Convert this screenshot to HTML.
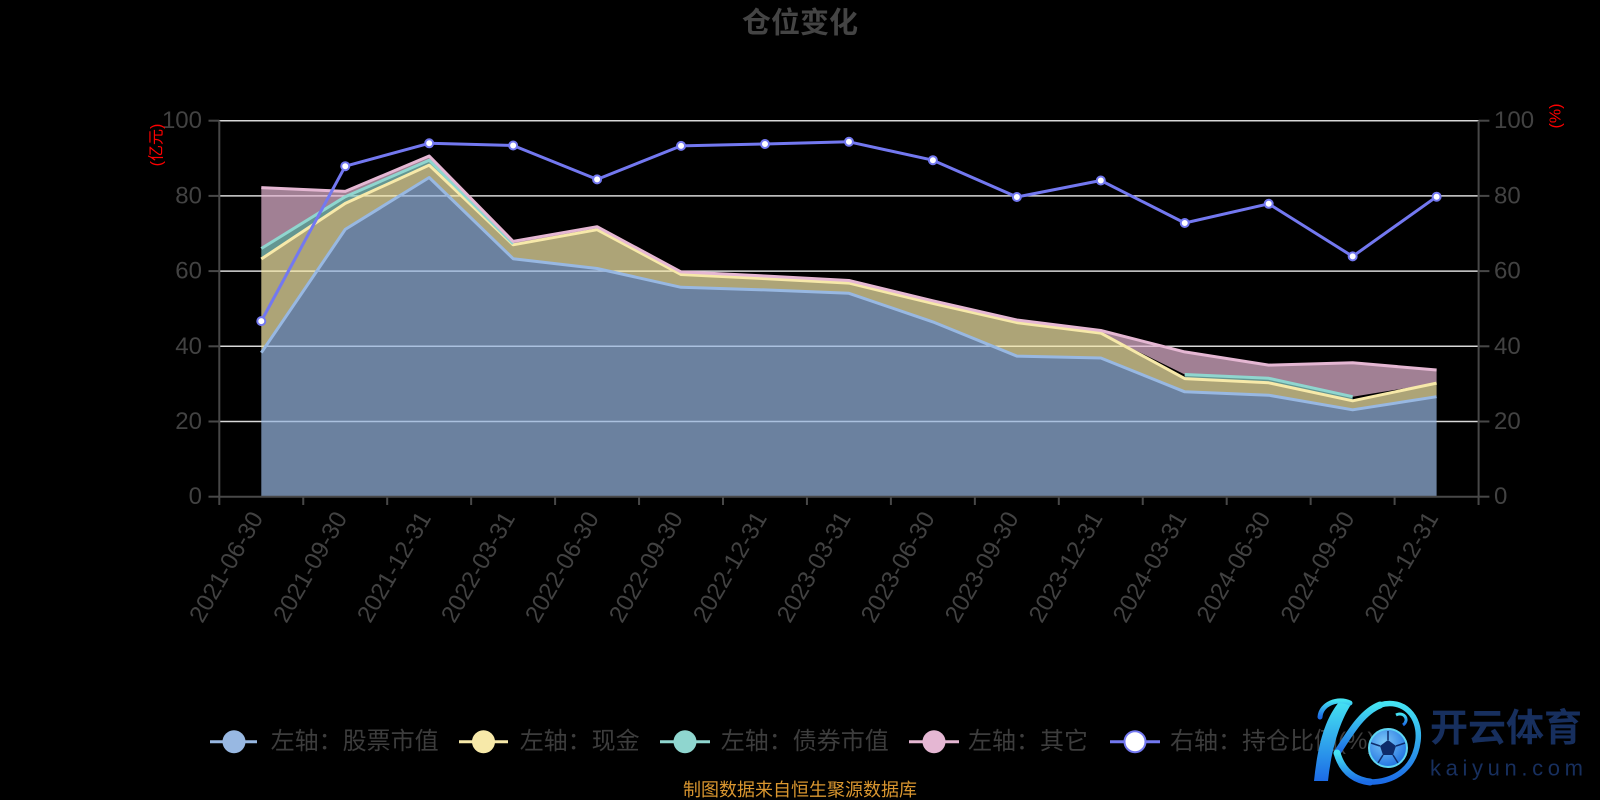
<!DOCTYPE html>
<html>
<head>
<meta charset="utf-8">
<style>
  html, body { margin:0; padding:0; background:#000; }
  svg { display:block; }
  text { font-family: "Liberation Sans", "Noto Sans CJK SC", sans-serif; }
</style>
</head>
<body>
<svg width="1600" height="800" viewBox="0 0 1600 800" xmlns="http://www.w3.org/2000/svg">
  <defs>
    <linearGradient id="kg" x1="0" y1="0" x2="0" y2="1">
      <stop offset="0" stop-color="#45e3f2"/>
      <stop offset="1" stop-color="#1c6be6"/>
    </linearGradient>
    <radialGradient id="bg" cx="0.4" cy="0.35" r="0.7">
      <stop offset="0" stop-color="#7cc8f8"/>
      <stop offset="1" stop-color="#1d6fe0"/>
    </radialGradient>
  </defs>
  <rect width="1600" height="800" fill="#000"/>

  <!-- title -->
  <text x="800" y="23.5" text-anchor="middle" dominant-baseline="central" font-size="29" font-weight="bold" fill="#444">仓位变化</text>

  <!-- gridlines -->
  <g stroke="#d8d8d8" stroke-width="1.5">
    <line x1="219.3" y1="120.7" x2="1478.6" y2="120.7"/>
    <line x1="219.3" y1="195.9" x2="1478.6" y2="195.9"/>
    <line x1="219.3" y1="271.1" x2="1478.6" y2="271.1"/>
    <line x1="219.3" y1="346.3" x2="1478.6" y2="346.3"/>
    <line x1="219.3" y1="421.5" x2="1478.6" y2="421.5"/>
  </g>

  <!-- areas -->
  <g fill-opacity="0.7" stroke="none">
    <polygon fill="#98b8e2" points="261.3,352.7 345.25,229.4 429.2,177.5 513.15,258.7 597.1,268.5 681.05,287.3 765,289.9 848.95,293.3 932.9,321.9 1016.85,356.1 1100.8,358 1184.75,391.8 1268.7,395.2 1352.65,409.8 1436.6,396.7 1436.6,496.7 261.3,496.7"/>
    <polygon fill="#f7e9a9" points="261.3,259 345.25,203.4 429.2,165.1 513.15,244.8 597.1,229.7 681.05,274.5 765,278.6 848.95,283.1 932.9,303.4 1016.85,322.6 1100.8,333.1 1184.75,378.6 1268.7,382.8 1352.65,400.8 1436.6,383.1 1436.6,396.7 1352.65,409.8 1268.7,395.2 1184.75,391.8 1100.8,358 1016.85,356.1 932.9,321.9 848.95,293.3 765,289.9 681.05,287.3 597.1,268.5 513.15,258.7 429.2,177.5 345.25,229.4 261.3,352.7"/>
    <polygon fill="#8fd6cf" points="261.3,248.5 345.25,196.7 429.2,160.2 513.15,243.7 513.15,244.8 429.2,165.1 345.25,203.4 261.3,259"/>
    <polygon fill="#8fd6cf" points="1184.75,374.5 1268.7,378.3 1352.65,396.7 1352.65,400.8 1268.7,382.8 1184.75,378.6"/>
    <polygon fill="#e5b7d3" points="261.3,187.6 345.25,191.4 429.2,156 513.15,241.4 597.1,226.7 681.05,271.9 765,276 848.95,280.5 932.9,300.8 1016.85,320 1100.8,330.5 1184.75,351.9 1268.7,365.1 1352.65,362.8 1436.6,370 1436.6,383.1 1352.65,396.7 1268.7,378.3 1184.75,374.5 1100.8,333.1 1016.85,322.6 932.9,303.4 848.95,283.1 765,278.6 681.05,274.5 597.1,229.7 513.15,243.7 429.2,160.2 345.25,196.7 261.3,248.5"/>
  </g>

  <!-- area lines -->
  <g fill="none" stroke-width="3" stroke-linejoin="round">
    <polyline stroke="#98b8e2" points="261.3,352.7 345.25,229.4 429.2,177.5 513.15,258.7 597.1,268.5 681.05,287.3 765,289.9 848.95,293.3 932.9,321.9 1016.85,356.1 1100.8,358 1184.75,391.8 1268.7,395.2 1352.65,409.8 1436.6,396.7"/>
    <polyline stroke="#f7e9a9" points="261.3,259 345.25,203.4 429.2,165.1 513.15,244.8 597.1,229.7 681.05,274.5 765,278.6 848.95,283.1 932.9,303.4 1016.85,322.6 1100.8,333.1 1184.75,378.6 1268.7,382.8 1352.65,400.8 1436.6,383.1"/>
    <polyline stroke="#8fd6cf" points="261.3,248.5 345.25,196.7 429.2,160.2 513.15,243.7"/>
    <polyline stroke="#8fd6cf" points="1184.75,374.5 1268.7,378.3 1352.65,396.7"/>
    <polyline stroke="#e5b7d3" points="261.3,187.6 345.25,191.4 429.2,156 513.15,241.4 597.1,226.7 681.05,271.9 765,276 848.95,280.5 932.9,300.8 1016.85,320 1100.8,330.5 1184.75,351.9 1268.7,365.1 1352.65,362.8 1436.6,370"/>
  </g>

  <!-- axes -->
  <g stroke="#484848" stroke-width="2" fill="none">
    <line x1="219.3" y1="120.7" x2="219.3" y2="496.7"/>
    <line x1="1478.6" y1="120.7" x2="1478.6" y2="496.7"/>
    <line x1="219.3" y1="496.7" x2="1478.6" y2="496.7"/>
    <line x1="208.5" y1="120.7" x2="219.3" y2="120.7"/>
    <line x1="208.5" y1="195.9" x2="219.3" y2="195.9"/>
    <line x1="208.5" y1="271.1" x2="219.3" y2="271.1"/>
    <line x1="208.5" y1="346.3" x2="219.3" y2="346.3"/>
    <line x1="208.5" y1="421.5" x2="219.3" y2="421.5"/>
    <line x1="208.5" y1="496.7" x2="219.3" y2="496.7"/>
    <line x1="1478.6" y1="120.7" x2="1489.4" y2="120.7"/>
    <line x1="1478.6" y1="195.9" x2="1489.4" y2="195.9"/>
    <line x1="1478.6" y1="271.1" x2="1489.4" y2="271.1"/>
    <line x1="1478.6" y1="346.3" x2="1489.4" y2="346.3"/>
    <line x1="1478.6" y1="421.5" x2="1489.4" y2="421.5"/>
    <line x1="1478.6" y1="496.7" x2="1489.4" y2="496.7"/>
    <line x1="219.3" y1="496.7" x2="219.3" y2="505"/>
    <line x1="303.25" y1="496.7" x2="303.25" y2="505"/>
    <line x1="387.2" y1="496.7" x2="387.2" y2="505"/>
    <line x1="471.15" y1="496.7" x2="471.15" y2="505"/>
    <line x1="555.1" y1="496.7" x2="555.1" y2="505"/>
    <line x1="639.05" y1="496.7" x2="639.05" y2="505"/>
    <line x1="723" y1="496.7" x2="723" y2="505"/>
    <line x1="806.95" y1="496.7" x2="806.95" y2="505"/>
    <line x1="890.9" y1="496.7" x2="890.9" y2="505"/>
    <line x1="974.85" y1="496.7" x2="974.85" y2="505"/>
    <line x1="1058.8" y1="496.7" x2="1058.8" y2="505"/>
    <line x1="1142.75" y1="496.7" x2="1142.75" y2="505"/>
    <line x1="1226.7" y1="496.7" x2="1226.7" y2="505"/>
    <line x1="1310.65" y1="496.7" x2="1310.65" y2="505"/>
    <line x1="1394.6" y1="496.7" x2="1394.6" y2="505"/>
    <line x1="1478.55" y1="496.7" x2="1478.55" y2="505"/>
  </g>

  <!-- right-axis line -->
  <polyline fill="none" stroke="#7378f0" stroke-width="3" stroke-linejoin="round" points="261.3,321.1 345.25,166.2 429.2,143.3 513.15,145.5 597.1,179.4 681.05,145.9 765,144 848.95,141.8 932.9,160.2 1016.85,197 1100.8,180.5 1184.75,223 1268.7,203.8 1352.65,256.4 1436.6,196.7"/>
  <g fill="#fff" stroke="#7378f0" stroke-width="2">
    <circle cx="261.3" cy="321.1" r="4"/>
    <circle cx="345.25" cy="166.2" r="4"/>
    <circle cx="429.2" cy="143.3" r="4"/>
    <circle cx="513.15" cy="145.5" r="4"/>
    <circle cx="597.1" cy="179.4" r="4"/>
    <circle cx="681.05" cy="145.9" r="4"/>
    <circle cx="765" cy="144" r="4"/>
    <circle cx="848.95" cy="141.8" r="4"/>
    <circle cx="932.9" cy="160.2" r="4"/>
    <circle cx="1016.85" cy="197" r="4"/>
    <circle cx="1100.8" cy="180.5" r="4"/>
    <circle cx="1184.75" cy="223" r="4"/>
    <circle cx="1268.7" cy="203.8" r="4"/>
    <circle cx="1352.65" cy="256.4" r="4"/>
    <circle cx="1436.6" cy="196.7" r="4"/>
  </g>

  <!-- y labels -->
  <g font-size="24" fill="#424242" dominant-baseline="central">
    <text x="202" y="120.7" text-anchor="end">100</text>
    <text x="202" y="195.9" text-anchor="end">80</text>
    <text x="202" y="271.1" text-anchor="end">60</text>
    <text x="202" y="346.3" text-anchor="end">40</text>
    <text x="202" y="421.5" text-anchor="end">20</text>
    <text x="202" y="496.7" text-anchor="end">0</text>
    <text x="1494" y="120.7">100</text>
    <text x="1494" y="195.9">80</text>
    <text x="1494" y="271.1">60</text>
    <text x="1494" y="346.3">40</text>
    <text x="1494" y="421.5">20</text>
    <text x="1494" y="496.7">0</text>
  </g>

  <!-- axis names -->
  <text transform="translate(157,145) rotate(-90)" text-anchor="middle" dominant-baseline="central" font-size="16" fill="#ff0000">(亿元)</text>
  <text transform="translate(1556,116) rotate(-90)" text-anchor="middle" dominant-baseline="central" font-size="16" fill="#ff0000">(%)</text>

  <!-- x labels -->
  <g font-size="24" fill="#424242" text-anchor="end" dominant-baseline="central">
    <text transform="translate(257.3,514) rotate(-60)">2021-06-30</text>
    <text transform="translate(341.25,514) rotate(-60)">2021-09-30</text>
    <text transform="translate(425.2,514) rotate(-60)">2021-12-31</text>
    <text transform="translate(509.15,514) rotate(-60)">2022-03-31</text>
    <text transform="translate(593.1,514) rotate(-60)">2022-06-30</text>
    <text transform="translate(677.05,514) rotate(-60)">2022-09-30</text>
    <text transform="translate(761,514) rotate(-60)">2022-12-31</text>
    <text transform="translate(844.95,514) rotate(-60)">2023-03-31</text>
    <text transform="translate(928.9,514) rotate(-60)">2023-06-30</text>
    <text transform="translate(1012.85,514) rotate(-60)">2023-09-30</text>
    <text transform="translate(1096.8,514) rotate(-60)">2023-12-31</text>
    <text transform="translate(1180.75,514) rotate(-60)">2024-03-31</text>
    <text transform="translate(1264.7,514) rotate(-60)">2024-06-30</text>
    <text transform="translate(1348.65,514) rotate(-60)">2024-09-30</text>
    <text transform="translate(1432.6,514) rotate(-60)">2024-12-31</text>
  </g>

  <!-- legend -->
  <g stroke-width="3">
    <line x1="210" y1="741.7" x2="257" y2="741.7" stroke="#98b8e2"/>
    <circle cx="234" cy="741.7" r="11.5" fill="#98b8e2" stroke="none"/>
    <line x1="459" y1="741.7" x2="508" y2="741.7" stroke="#f7e9a9"/>
    <circle cx="483.5" cy="741.7" r="11.5" fill="#f7e9a9" stroke="none"/>
    <line x1="660" y1="741.7" x2="710" y2="741.7" stroke="#8fd6cf"/>
    <circle cx="685" cy="741.7" r="11.5" fill="#8fd6cf" stroke="none"/>
    <line x1="909" y1="741.7" x2="959" y2="741.7" stroke="#e5b7d3"/>
    <circle cx="934" cy="741.7" r="11.5" fill="#e5b7d3" stroke="none"/>
    <line x1="1110" y1="741.7" x2="1160" y2="741.7" stroke="#7378f0"/>
    <circle cx="1135" cy="741.7" r="10.5" fill="#fff" stroke="#7378f0" stroke-width="2"/>
  </g>
  <g font-size="24" fill="#3d3d3d" dominant-baseline="central">
    <text x="270.6" y="741.7">左轴：股票市值</text>
    <text x="519.7" y="741.7">左轴：现金</text>
    <text x="720.8" y="741.7">左轴：债券市值</text>
    <text x="968" y="741.7">左轴：其它</text>
    <text x="1170" y="741.7">右轴：持仓比例(%)</text>
  </g>

  <!-- source -->
  <text x="800" y="790" text-anchor="middle" dominant-baseline="central" font-size="18" fill="#d9962f">制图数据来自恒生聚源数据库</text>

  <!-- watermark logo -->
  <g>
    <path d="M1340,701 C1323,720 1317,752 1314,781 L1328,781 C1331,752 1339,722 1352,703 Z" fill="url(#kg)"/>
    <path d="M1320,717 C1321,704 1338,697 1350,703" fill="none" stroke="url(#kg)" stroke-width="5" stroke-linecap="round"/>
    <path d="M1337,753 C1350,733 1362,712 1380,705" fill="none" stroke="url(#kg)" stroke-width="7" stroke-linecap="round"/>
    <path d="M1380,705 C1403,698 1421,716 1418,741 C1415,766 1397,782 1370,782" fill="none" stroke="url(#kg)" stroke-width="5.5" stroke-linecap="round"/>
    <path d="M1337,753 C1342,770 1353,780 1370,782" fill="none" stroke="url(#kg)" stroke-width="7" stroke-linecap="round"/>
    <path d="M1396,715 C1404,711 1410,720 1403,725" fill="none" stroke="url(#kg)" stroke-width="3"/>
    <circle cx="1388" cy="748" r="19" fill="url(#bg)" stroke="#5fd6f2" stroke-width="2"/>
    <polygon points="1388,740 1396,746 1393,755 1383,755 1380,746" fill="#0e2c6a"/>
    <g stroke="#0e2c6a" stroke-width="1.5">
      <line x1="1388" y1="740" x2="1388" y2="731"/>
      <line x1="1396" y1="746" x2="1405" y2="743"/>
      <line x1="1393" y1="755" x2="1398" y2="763"/>
      <line x1="1383" y1="755" x2="1378" y2="763"/>
      <line x1="1380" y1="746" x2="1371" y2="743"/>
    </g>
    <text x="1430" y="729" dominant-baseline="central" font-size="38" font-weight="bold" fill="#172f5e">开云体育</text>
    <text x="1430" y="768" dominant-baseline="central" font-size="22" fill="#172f5e" textLength="153" lengthAdjust="spacing">kaiyun.com</text>
  </g>
</svg>
</body>
</html>
